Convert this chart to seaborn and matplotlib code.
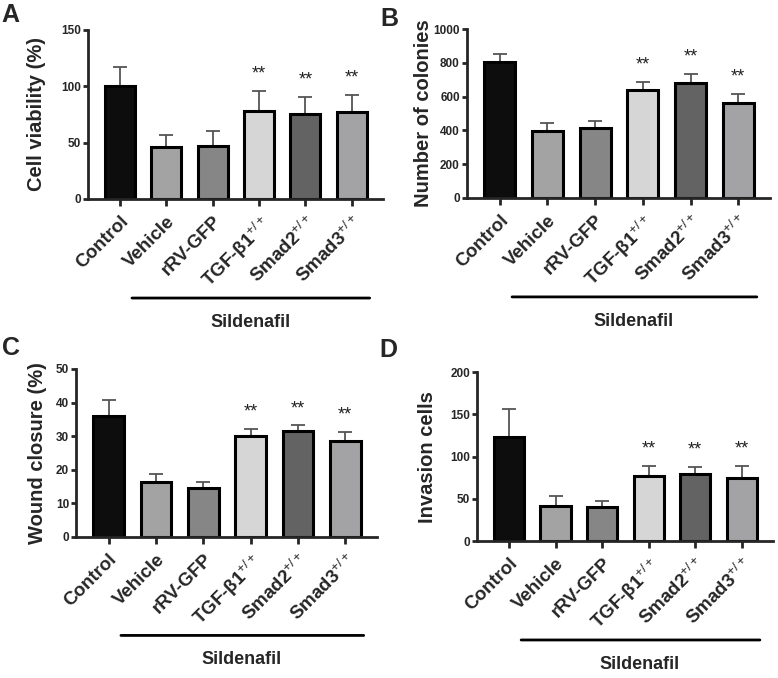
import matplotlib
matplotlib.use('Agg')
import matplotlib.pyplot as plt
import seaborn as sns
import numpy as np

# groups and data
groups = ['Control', 'Vehicle', 'rRV-GFP',
          'TGF-β1$^{+/+}$', 'Smad2$^{+/+}$', 'Smad3$^{+/+}$']
bar_colors = ['#0d0d0d', '#a3a3a3', '#868686', '#d6d6d6', '#636363', '#a3a3a6']

viability = [100, 46, 47, 78, 75, 77]
viability_err = [17, 11, 13, 18, 15.5, 15.5]

colonies = [806, 397, 415, 638, 682, 560]
colonies_err = [48, 48, 43, 48, 53, 55]

wound = [36.1, 16.3, 14.7, 30.1, 31.5, 28.7]
wound_err = [4.8, 2.5, 1.8, 2.0, 1.7, 2.5]

invasion = [123, 41, 40.6, 77.3, 78.9, 74.6]
invasion_err = [33, 12, 6.7, 12, 9, 14]

sig = ['', '', '', '**', '**', '**']

sns.set_style('ticks')
plt.rcParams['font.family'] = ['Liberation Sans', 'DejaVu Sans']
plt.rcParams['mathtext.fontset'] = 'custom'
plt.rcParams['mathtext.rm'] = 'Liberation Sans'
plt.rcParams['mathtext.it'] = 'Liberation Sans'

fig = plt.figure(figsize=(7.78, 6.78), dpi=100)

panels = [
    ([0.113, 0.7065, 0.379, 0.2493], viability, viability_err, 'Cell viability (%)', 150, 50, -0.142),
    ([0.600, 0.708, 0.390, 0.249], colonies, colonies_err, 'Number of colonies', 1000, 200, -0.112),
    ([0.0977, 0.208, 0.3869, 0.2478], wound, wound_err, 'Wound closure (%)', 50, 10, -0.096),
    ([0.613, 0.202, 0.3806, 0.249], invasion, invasion_err, 'Invasion cells', 200, 50, -0.135),
]

for rect, vals, errs, ylabel, ymax, ystep, label_x in panels:
    ax = fig.add_axes(rect)
    sns.barplot(x=groups, y=vals, hue=groups, palette=bar_colors, legend=False,
                width=0.65, edgecolor='black', linewidth=2.2, ax=ax, zorder=2)
    xs = np.arange(len(groups))
    ax.errorbar(xs, vals, yerr=[np.zeros(len(vals)), errs], fmt='none',
                ecolor='#555555', elinewidth=1.3, capsize=5, capthick=1.3, zorder=1)
    for x, v, e, s in zip(xs, vals, errs, sig):
        if s:
            ax.text(x, v + e + ymax * 0.05, s, ha='center', va='bottom',
                    fontsize=13, color='#222222')
    ax.set_xlim(-0.69, 5.67)
    ax.set_ylim(0, ymax)
    ax.set_yticks(np.arange(0, ymax + 1, ystep))
    ax.set_xlabel('')
    ax.set_ylabel(ylabel, fontsize=14.5, fontweight='bold')
    ax.yaxis.set_label_coords(label_x, 0.5)
    sns.despine(ax=ax)
    for sp in ['left', 'bottom']:
        ax.spines[sp].set_linewidth(2)
    ax.tick_params(axis='y', width=2, length=3.5, pad=1.5, labelsize=8.5)
    ax.tick_params(axis='x', width=2, length=5, pad=5)
    for t in ax.get_yticklabels():
        t.set_fontweight('bold')
    ax.set_xticks(xs)
    ax.set_xticklabels(groups, rotation=45, ha='right', rotation_mode='anchor',
                       fontsize=13.5, fontweight='bold')

    # Sildenafil line under groups 2-6
    ax.annotate('', xy=(0.14, -0.586), xytext=(0.965, -0.586),
                xycoords='axes fraction',
                arrowprops=dict(arrowstyle='-', lw=2, color='black'))
    ax.text(0.55, -0.73, 'Sildenafil', transform=ax.transAxes, ha='center',
            va='center', fontsize=13, fontweight='bold')

fig.text(0.002, 0.995, 'A', fontsize=18, fontweight='bold', va='top')
fig.text(0.489, 0.99, 'B', fontsize=18, fontweight='bold', va='top')
fig.text(0.002, 0.505, 'C', fontsize=18, fontweight='bold', va='top')
fig.text(0.488, 0.502, 'D', fontsize=18, fontweight='bold', va='top')

fig.savefig('out.png', dpi=100)
